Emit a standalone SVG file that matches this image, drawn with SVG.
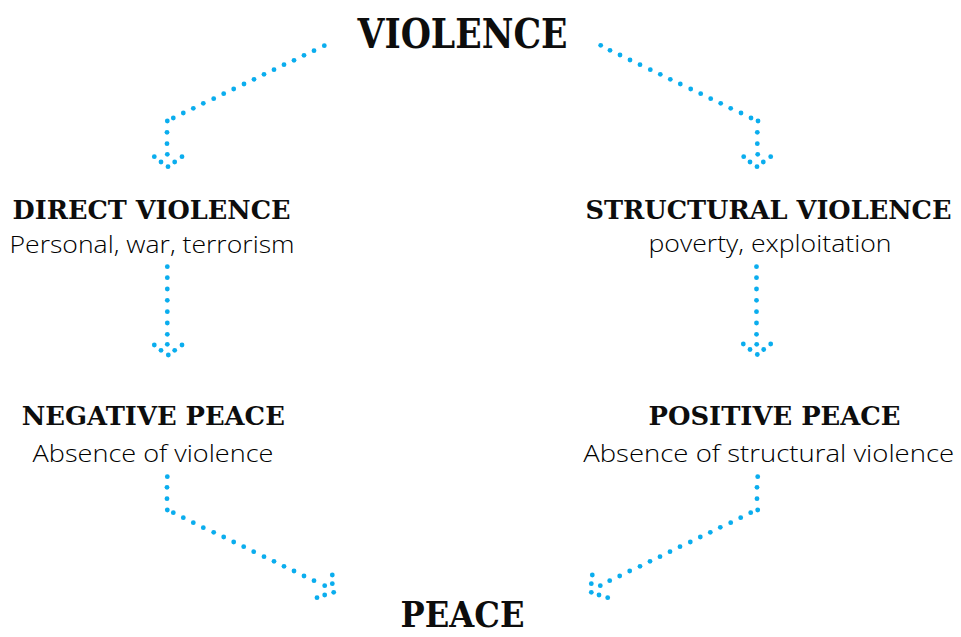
<svg xmlns="http://www.w3.org/2000/svg" width="961" height="637" viewBox="0 0 961 637">
<style>
.bg{fill:#ffffff}
.t{font-family:"DejaVu Serif","Liberation Serif",serif;font-weight:bold;fill:#0d0d0d;text-anchor:middle}
.h{font-size:26px}
.s{font-family:"Open Sans","Lato","Liberation Sans",sans-serif;font-weight:300;fill:#000000;text-anchor:middle;font-size:23px}
.d circle{fill:#0aadee}
</style>
<rect class="bg" x="0" y="0" width="961" height="637"/>
<g id="violence"><text class="t" x="462.5" y="48" font-size="41" textLength="210" lengthAdjust="spacingAndGlyphs">VIOLENCE</text></g>
<g id="direct-violence"><text class="t h" x="151.5" y="219" textLength="278" lengthAdjust="spacingAndGlyphs">DIRECT VIOLENCE</text><text class="s" x="152" y="253" textLength="285" lengthAdjust="spacingAndGlyphs">Personal, war, terrorism</text></g>
<g id="structural-violence"><text class="t h" x="768.5" y="219" textLength="366" lengthAdjust="spacingAndGlyphs">STRUCTURAL VIOLENCE</text><text class="s" x="770" y="252" textLength="243" lengthAdjust="spacingAndGlyphs">poverty, exploitation</text></g>
<g id="negative-peace"><text class="t h" x="153.3" y="425" textLength="263" lengthAdjust="spacingAndGlyphs">NEGATIVE PEACE</text><text class="s" x="153" y="462" textLength="241" lengthAdjust="spacingAndGlyphs">Absence of violence</text></g>
<g id="positive-peace"><text class="t h" x="774.5" y="425" textLength="252" lengthAdjust="spacingAndGlyphs">POSITIVE PEACE</text><text class="s" x="768.7" y="462" textLength="371" lengthAdjust="spacingAndGlyphs">Absence of structural violence</text></g>
<g id="peace"><text class="t" x="462.5" y="627" font-size="36" textLength="124" lengthAdjust="spacingAndGlyphs">PEACE</text></g>
<g id="connectors" class="d">
<g id="c1"><circle cx="324.3" cy="45.7" r="2.4"/><circle cx="314" cy="50.7" r="2.4"/><circle cx="304" cy="55.3" r="2.4"/><circle cx="294" cy="60.3" r="2.4"/><circle cx="284" cy="64.7" r="2.4"/><circle cx="274" cy="69.7" r="2.4"/><circle cx="264" cy="74.3" r="2.4"/><circle cx="254" cy="79.3" r="2.4"/><circle cx="244" cy="84" r="2.4"/><circle cx="233.7" cy="89" r="2.4"/><circle cx="223.7" cy="93.7" r="2.4"/><circle cx="213.7" cy="98.7" r="2.4"/><circle cx="203.3" cy="103.3" r="2.4"/><circle cx="193.3" cy="108.3" r="2.4"/><circle cx="183.3" cy="113" r="2.4"/><circle cx="173.3" cy="118" r="2.4"/><circle cx="167.3" cy="121" r="2.4"/><circle cx="167" cy="132.3" r="2.4"/><circle cx="167" cy="143.7" r="2.4"/><circle cx="167.3" cy="154.3" r="2.4"/><circle cx="154.3" cy="156.7" r="2.4"/><circle cx="161" cy="162" r="2.4"/><circle cx="168" cy="166.7" r="2.4"/><circle cx="174.7" cy="162" r="2.4"/><circle cx="182" cy="156.7" r="2.4"/></g>
<g id="c2"><circle cx="600.7" cy="45.3" r="2.4"/><circle cx="610" cy="50.3" r="2.4"/><circle cx="620" cy="55" r="2.4"/><circle cx="630" cy="60" r="2.4"/><circle cx="640" cy="64.7" r="2.4"/><circle cx="650.3" cy="69.7" r="2.4"/><circle cx="660.3" cy="74.3" r="2.4"/><circle cx="670.3" cy="79.3" r="2.4"/><circle cx="680.3" cy="84" r="2.4"/><circle cx="690.7" cy="89" r="2.4"/><circle cx="700.7" cy="93.7" r="2.4"/><circle cx="710.7" cy="98.7" r="2.4"/><circle cx="720.7" cy="103.3" r="2.4"/><circle cx="730.7" cy="108.3" r="2.4"/><circle cx="741" cy="113" r="2.4"/><circle cx="751" cy="118" r="2.4"/><circle cx="758" cy="121" r="2.4"/><circle cx="757.3" cy="132.3" r="2.4"/><circle cx="757.3" cy="143.7" r="2.4"/><circle cx="757.7" cy="154.3" r="2.4"/><circle cx="743.7" cy="156.7" r="2.4"/><circle cx="750" cy="162" r="2.4"/><circle cx="757" cy="166.7" r="2.4"/><circle cx="763.3" cy="162" r="2.4"/><circle cx="770.7" cy="156.7" r="2.4"/></g>
<g id="c3"><circle cx="167.3" cy="266.7" r="2.4"/><circle cx="167.3" cy="277.7" r="2.4"/><circle cx="167.3" cy="289" r="2.4"/><circle cx="167.3" cy="300.3" r="2.4"/><circle cx="167.3" cy="311.7" r="2.4"/><circle cx="167.3" cy="323" r="2.4"/><circle cx="167.3" cy="334.3" r="2.4"/><circle cx="167.3" cy="344.3" r="2.4"/><circle cx="154.3" cy="345" r="2.4"/><circle cx="161" cy="350.3" r="2.4"/><circle cx="168.3" cy="355" r="2.4"/><circle cx="174.7" cy="350.3" r="2.4"/><circle cx="182" cy="345" r="2.4"/></g>
<g id="c4"><circle cx="756.5" cy="266.7" r="2.4"/><circle cx="756.5" cy="277.7" r="2.4"/><circle cx="756.5" cy="289" r="2.4"/><circle cx="756.5" cy="300.3" r="2.4"/><circle cx="756.5" cy="311.7" r="2.4"/><circle cx="756.5" cy="323" r="2.4"/><circle cx="756.5" cy="334.3" r="2.4"/><circle cx="756.7" cy="344.3" r="2.4"/><circle cx="743.3" cy="344" r="2.4"/><circle cx="750" cy="349.5" r="2.4"/><circle cx="757.3" cy="354.5" r="2.4"/><circle cx="763.7" cy="349.5" r="2.4"/><circle cx="770.7" cy="344" r="2.4"/></g>
<g id="c5"><circle cx="167.3" cy="476.7" r="2.4"/><circle cx="167" cy="487.3" r="2.4"/><circle cx="167" cy="498.7" r="2.4"/><circle cx="167.3" cy="510" r="2.4"/><circle cx="173.3" cy="512.7" r="2.4"/><circle cx="183.3" cy="517.7" r="2.4"/><circle cx="193.3" cy="522.7" r="2.4"/><circle cx="203.3" cy="527.7" r="2.4"/><circle cx="213.7" cy="532.3" r="2.4"/><circle cx="223.7" cy="537" r="2.4"/><circle cx="233.7" cy="542" r="2.4"/><circle cx="243.7" cy="546.7" r="2.4"/><circle cx="253.7" cy="551.7" r="2.4"/><circle cx="264" cy="556.7" r="2.4"/><circle cx="274" cy="561.3" r="2.4"/><circle cx="284" cy="566.3" r="2.4"/><circle cx="294" cy="571" r="2.4"/><circle cx="304" cy="576" r="2.4"/><circle cx="314" cy="580.7" r="2.4"/><circle cx="324.7" cy="585.7" r="2.4"/><circle cx="332.3" cy="575" r="2.4"/><circle cx="332.3" cy="583.7" r="2.4"/><circle cx="333.7" cy="592.3" r="2.4"/><circle cx="324.7" cy="595" r="2.4"/><circle cx="317" cy="597.7" r="2.4"/></g>
<g id="c6"><circle cx="757.7" cy="476.7" r="2.4"/><circle cx="757" cy="487.3" r="2.4"/><circle cx="757" cy="498.7" r="2.4"/><circle cx="757.7" cy="510" r="2.4"/><circle cx="750.7" cy="512.7" r="2.4"/><circle cx="740.7" cy="517.7" r="2.4"/><circle cx="730.7" cy="522.7" r="2.4"/><circle cx="720.3" cy="527.3" r="2.4"/><circle cx="710.3" cy="532.3" r="2.4"/><circle cx="700.3" cy="537" r="2.4"/><circle cx="690.3" cy="542" r="2.4"/><circle cx="680" cy="546.7" r="2.4"/><circle cx="670" cy="551.7" r="2.4"/><circle cx="660" cy="556.7" r="2.4"/><circle cx="650" cy="561.3" r="2.4"/><circle cx="640" cy="566.3" r="2.4"/><circle cx="629.7" cy="571" r="2.4"/><circle cx="619.7" cy="576" r="2.4"/><circle cx="609.7" cy="580.7" r="2.4"/><circle cx="600.3" cy="585.7" r="2.4"/><circle cx="592.3" cy="575" r="2.4"/><circle cx="591.3" cy="583.7" r="2.4"/><circle cx="591.3" cy="592.3" r="2.4"/><circle cx="599" cy="595" r="2.4"/><circle cx="607.7" cy="597.7" r="2.4"/></g>
</g>
</svg>
